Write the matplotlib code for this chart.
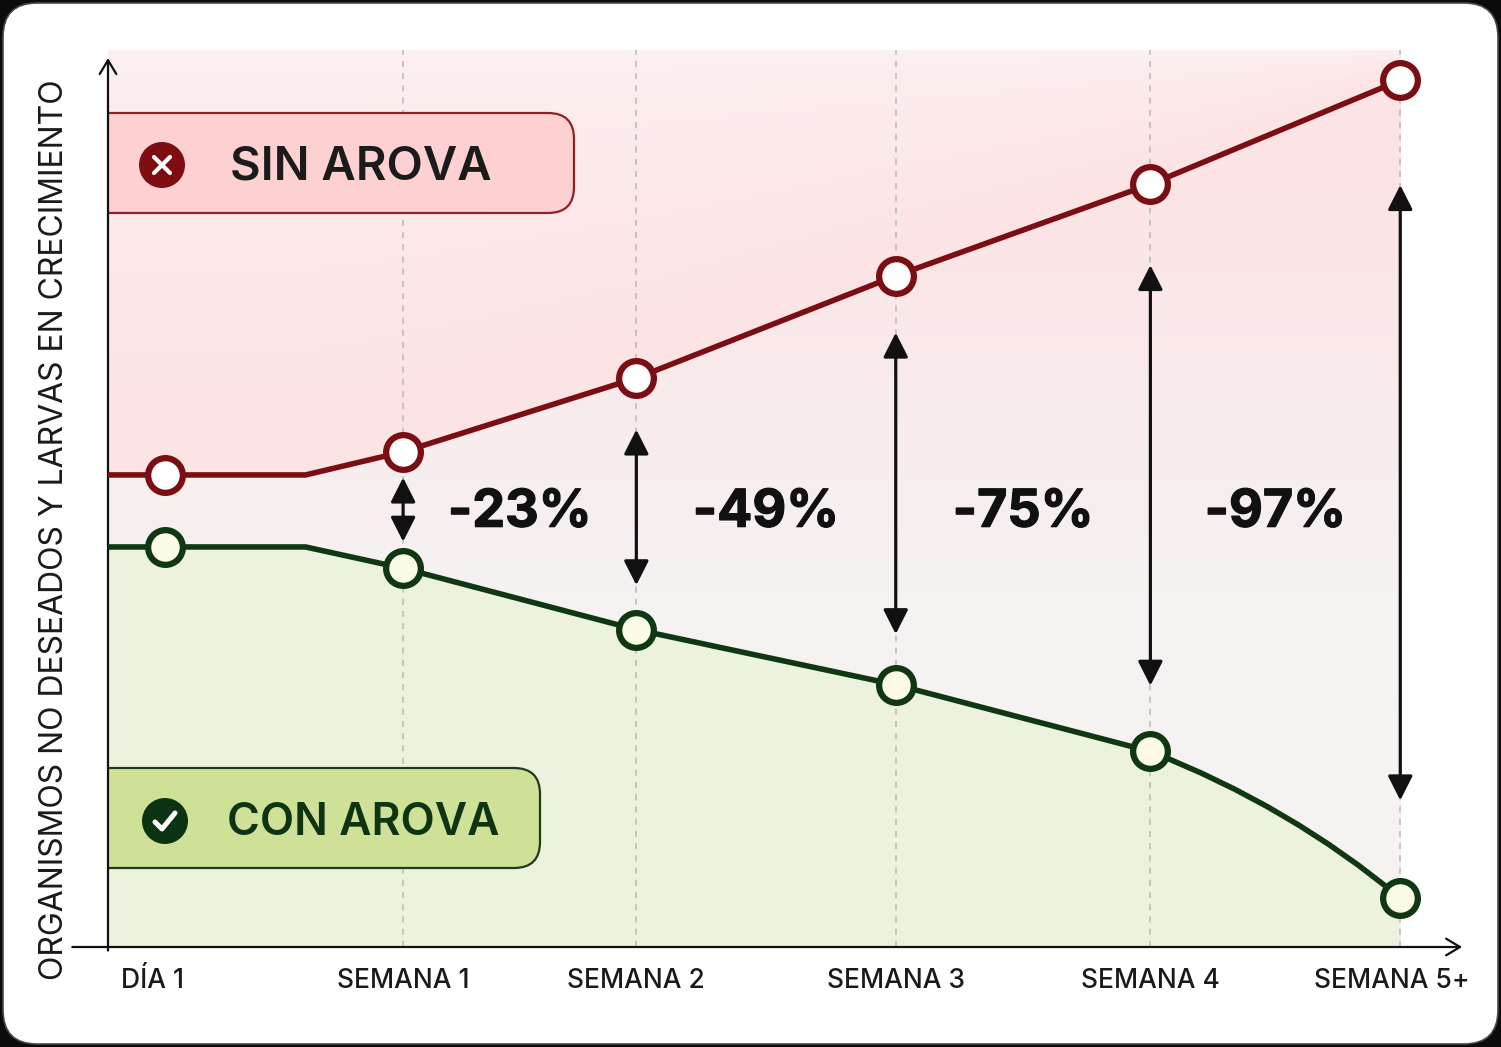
import numpy as np
import matplotlib.pyplot as plt
import matplotlib.patheffects as pe
from matplotlib.patches import FancyBboxPatch, Circle, PathPatch
from matplotlib.path import Path
from matplotlib.transforms import Affine2D, ScaledTranslation
from matplotlib.colors import to_rgb

plt.rcParams['font.family'] = ['Inter', 'DejaVu Sans']

W, H = 1501, 1047

# periods on the x axis (positions in "week" units)
labels = ['DÍA 1', 'SEMANA 1', 'SEMANA 2', 'SEMANA 3', 'SEMANA 4', 'SEMANA 5+']
x_pos = [0.0, 1.0, 1.98, 3.07, 4.14, 5.19]

# values at the markers (0..100 scale)
sin_vals = [53.1, 55.7, 64.0, 75.5, 85.8, 97.5]
con_vals = [45.0, 42.6, 35.7, 29.5, 22.0, 5.5]

# full line paths (flat start from the axis; green tail bends through a control point)
sin_x = [-0.24, 0.0, 0.59, 1.0, 1.98, 3.07, 4.14, 5.19]
sin_y = [53.1, 53.1, 53.1, 55.7, 64.0, 75.5, 85.8, 97.5]
con_x = [-0.24, 0.0, 0.59, 1.0, 1.98, 3.07, 4.14, 5.19]
con_y = [45.0, 45.0, 45.0, 42.6, 35.7, 29.5, 22.0, 5.5]
con_bend = (4.73, 15.8)

# gap arrows at semana 1..5
arrow_top = [52.8, 58.2, 69.1, 76.7, 85.7]
arrow_bottom = [45.6, 40.7, 35.2, 29.4, 16.5]
reductions = ['-23%', '-49%', '-75%', '-97%']

red = '#7a0e12'
green = '#0f3712'

x_left, x_right = -0.24, 5.483
y_top = 100.9

fig = plt.figure(figsize=(W / 100, H / 100), dpi=100, facecolor='#0b0b0b')
px = Affine2D().scale(1 / W, -1 / H).translate(0, 1) + fig.transFigure

card = FancyBboxPatch((3, 3), W - 6, H - 6, boxstyle='round,pad=0,rounding_size=34',
                      transform=px, fc='white', ec='#4a4a4a', lw=1.2, zorder=-10)
fig.patches.append(card)

ax = fig.add_axes([108 / W, (H - 947) / H, (1470 - 108) / W, (947 - 50) / H])
ax.patch.set_alpha(0)
for s in ax.spines.values():
    s.set_visible(False)

# background: pink above the red line, fading pink/white between the lines
xs = np.linspace(x_left, x_pos[-1], 800)
ys = np.linspace(0, y_top, 600)
X, Y = np.meshgrid(xs, ys)
r = np.interp(X, sin_x, sin_y)
c_top = np.array(to_rgb('#fdf0f0'))
c_pink = np.array(to_rgb('#fce4e5'))
c_white = np.array(to_rgb('#f6f2f2'))
t_up = np.clip((Y - r) / (y_top - r), 0, 1)[..., None] ** 1.5
col_up = c_pink * (1 - t_up) + c_top * t_up
t_mid = np.clip((Y - 40) / 45, 0, 1)[..., None]
col_mid = c_white * (1 - t_mid) + c_pink * t_mid
img = np.where((Y >= r)[..., None], col_up, col_mid)
ax.imshow(img, extent=[x_left, x_pos[-1], 0, y_top], origin='lower',
          aspect='auto', interpolation='bilinear', zorder=0)
ax.set_xlim(x_left, x_right)
ax.set_ylim(0, y_top)

# green line as a path (straight segments + curved tail)
verts = list(zip(con_x[:-1], con_y[:-1])) + [con_bend, (con_x[-1], con_y[-1])]
codes = [Path.MOVETO] + [Path.LINETO] * (len(con_x) - 2) + [Path.CURVE3, Path.CURVE3]
con_path = Path(verts, codes)
area_path = Path(verts + [(con_x[-1], 0), (con_x[0], 0), (con_x[0], con_y[0])],
                 codes + [Path.LINETO, Path.LINETO, Path.CLOSEPOLY])
ax.add_patch(PathPatch(area_path, fc='#edf2df', ec='none', zorder=0.5))

# vertical dashed guides
ax.vlines(x_pos[1:], 0, y_top, colors='#b9b9b9', linestyles=(0, (4, 4)), lw=1.1, zorder=1)

# legend boxes
box_sin = FancyBboxPatch((60, 113), 574 - 60, 100, boxstyle='round,pad=0,rounding_size=26',
                         transform=px, fc='#fdd1d2', ec='#8e2226', lw=1.6, zorder=2)
box_con = FancyBboxPatch((60, 768), 540 - 60, 100, boxstyle='round,pad=0,rounding_size=26',
                         transform=px, fc='#cfe197', ec='#1f3b1c', lw=1.6, zorder=2)
ax.add_patch(box_sin)
ax.add_patch(box_con)

ax.add_patch(Circle((162, 165), 23, transform=px, fc='#7e0d12', ec='none', zorder=3, clip_on=False))
ax.plot([154, 170], [157, 173], color='white', lw=3, transform=px, zorder=4, solid_capstyle='round')
ax.plot([154, 170], [173, 157], color='white', lw=3, transform=px, zorder=4, solid_capstyle='round')
ax.text(230, 168, 'SIN AROVA', transform=px, fontsize=34, fontweight='semibold',
        color='#1b1b1b', ha='left', va='center', zorder=4)

ax.add_patch(Circle((165, 821), 23, transform=px, fc='#0c3312', ec='none', zorder=3, clip_on=False))
ax.plot([155, 162, 175], [822, 829, 813], color='white', lw=3.6, transform=px, zorder=4,
        solid_capstyle='round', solid_joinstyle='round')
ax.text(227, 823, 'CON AROVA', transform=px, fontsize=32, fontweight='semibold',
        color='#0e3414', ha='left', va='center', zorder=4)

# lines and markers
ax.plot(sin_x, sin_y, color=red, lw=4.0, zorder=5, solid_joinstyle='round')
ax.add_patch(PathPatch(con_path, fc='none', ec=green, lw=4.0, joinstyle='round', zorder=5))
ax.plot(x_pos, sin_vals, 'o', ms=25, mfc='white', mec=red, mew=4.5, zorder=6)
ax.plot(x_pos, con_vals, 'o', ms=25, mfc='#fbfbe6', mec=green, mew=4.5, zorder=6)

# gap arrows
for xa, top, bot in zip(x_pos[1:], arrow_top, arrow_bottom):
    ax.annotate('', xy=(xa, top), xytext=(xa, bot),
                arrowprops=dict(arrowstyle='<|-|>,head_length=0.75,head_width=0.38',
                                color='#111111', lw=2.3, shrinkA=0, shrinkB=0,
                                mutation_scale=20), zorder=7)

for i, txt in enumerate(reductions):
    xm = (x_pos[i + 1] + x_pos[i + 2]) / 2
    ax.text(xm, 48.8, txt, fontsize=37.5, fontweight='bold', color='#111111',
            ha='center', va='center', zorder=7,
            path_effects=[pe.withStroke(linewidth=0.9, foreground='#111111')])

# axes with open arrowheads
ax.annotate('', xy=(x_left, 100), xytext=(x_left, -0.4), annotation_clip=False,
            arrowprops=dict(arrowstyle='->,head_length=0.5,head_width=0.3', color='#111111',
                            lw=1.6, shrinkA=0, shrinkB=0, mutation_scale=20))
ax.annotate('', xy=(5.45, 0), xytext=(-0.39, 0), annotation_clip=False,
            arrowprops=dict(arrowstyle='->,head_length=0.5,head_width=0.3', color='#111111',
                            lw=1.6, shrinkA=0, shrinkB=0, mutation_scale=20))

ax.set_xticks(x_pos, labels)
ax.set_yticks([])
ax.tick_params(axis='x', length=0, pad=15, labelsize=19, labelcolor='#1a1a1a')
for lab in ax.get_xticklabels():
    lab.set_fontweight('medium')
ticklabs = ax.get_xticklabels()
ticklabs[0].set_transform(ticklabs[0].get_transform() + ScaledTranslation(-0.13, 0, fig.dpi_scale_trans))
ticklabs[-1].set_transform(ticklabs[-1].get_transform() + ScaledTranslation(-0.08, 0, fig.dpi_scale_trans))

fig.text(55 / W, 1 - 530 / H, 'ORGANISMOS NO DESEADOS Y LARVAS EN CRECIMIENTO',
         rotation=90, fontsize=23, color='#1a1a1a', ha='center', va='center')

fig.savefig('out.png', dpi=100, facecolor=fig.get_facecolor())
